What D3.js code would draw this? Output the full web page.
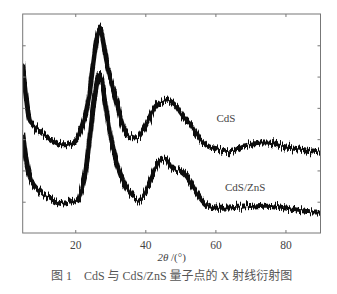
<!DOCTYPE html>
<html>
<head>
<meta charset="utf-8">
<script src="https://cdn.jsdelivr.net/npm/d3@7"></script>
<style>
  body { margin: 0; background: #fff; }
  svg text { font-family: "Liberation Serif", "DejaVu Serif", serif; fill: #444; }
</style>
</head>
<body>
<div id="wrapper"></div>
<script>
// 2theta in degrees, one reading per degree
const twoTheta = d3.range(5, 91)

// CdS intensity (arb. units)
const cdsValues = [
  5.35, 4.30, 3.60, 3.45, 3.32, 3.22, 3.13, 3.07, 3.00, 2.93,
  2.87, 2.82, 2.82, 2.84, 2.87, 2.93, 3.10, 3.40, 3.80, 4.40,
  5.30, 6.10, 6.55, 6.10, 5.40, 4.95, 4.55, 4.12, 3.65, 3.32,
  3.15, 3.07, 3.04, 3.05, 3.20, 3.39, 3.62, 3.88, 4.05, 4.15,
  4.20, 4.25, 4.22, 4.13, 4.03, 3.85, 3.70, 3.58, 3.48, 3.30,
  3.10, 2.95, 2.85, 2.77, 2.73, 2.70, 2.67, 2.64, 2.61, 2.60,
  2.62, 2.66, 2.72, 2.78, 2.80, 2.83, 2.85, 2.86, 2.88, 2.88,
  2.88, 2.86, 2.84, 2.81, 2.78, 2.75, 2.74, 2.72, 2.70, 2.68,
  2.67, 2.65, 2.63, 2.62, 2.60, 2.58
]

// CdS/ZnS intensity
const cdsZnsValues = [
  3.20, 2.35, 1.80, 1.55, 1.42, 1.32, 1.22, 1.16, 1.10, 1.05,
  1.00, 0.97, 0.96, 0.98, 1.00, 1.03, 1.10, 1.50, 2.00, 2.90,
  3.90, 4.70, 5.10, 4.60, 3.85, 3.15, 2.60, 2.18, 1.85, 1.58,
  1.38, 1.22, 1.10, 1.05, 1.12, 1.28, 1.55, 1.85, 2.12, 2.32,
  2.40, 2.38, 2.20, 2.08, 2.03, 2.00, 1.92, 1.80, 1.62, 1.42,
  1.25, 1.08, 0.95, 0.86, 0.82, 0.80, 0.79, 0.79, 0.80, 0.80,
  0.81, 0.82, 0.82, 0.83, 0.84, 0.85, 0.86, 0.87, 0.88, 0.89,
  0.89, 0.88, 0.86, 0.84, 0.82, 0.80, 0.78, 0.76, 0.74, 0.72,
  0.71, 0.69, 0.68, 0.67, 0.67, 0.66
]

const xTicks = [20, 40, 60, 80]
const yTicks = [1, 2, 3, 4, 5, 6]
const seriesLabels = [
  { name: "CdS", x: 63, y: 3.55 },
  { name: "CdS/ZnS", x: 68.5, y: 1.35 },
]
const caption = "图 1　CdS 与 CdS/ZnS 量子点的 X 射线衍射图"

function drawChart() {
  const dimensions = {
    width: 337,
    height: 294,
    margin: { top: 14, right: 16.5, bottom: 61, left: 22.7 },
  }
  dimensions.boundedWidth = dimensions.width - dimensions.margin.left - dimensions.margin.right
  dimensions.boundedHeight = dimensions.height - dimensions.margin.top - dimensions.margin.bottom

  const wrapper = d3.select("#wrapper")
    .append("svg")
      .attr("width", dimensions.width)
      .attr("height", dimensions.height)

  wrapper.append("rect")
      .attr("width", dimensions.width)
      .attr("height", dimensions.height)
      .attr("fill", "#fff")

  // detector-noise look: vertical-only jitter of the drawn stroke
  const defs = wrapper.append("defs")
  const noise = defs.append("filter")
      .attr("id", "noisy")
      .attr("filterUnits", "userSpaceOnUse")
      .attr("x", 0).attr("y", 0)
      .attr("width", dimensions.width).attr("height", dimensions.height)
  noise.append("feTurbulence")
      .attr("type", "fractalNoise")
      .attr("baseFrequency", "0.9 0.03")
      .attr("numOctaves", 2)
      .attr("seed", 3)
      .attr("result", "turb")
  noise.append("feColorMatrix")
      .attr("in", "turb")
      .attr("type", "matrix")
      .attr("values", "0 0 0 0 0.5  0 1 0 0 0  0 0 0 0 0  0 0 0 0 1")
      .attr("result", "map")
  noise.append("feDisplacementMap")
      .attr("in", "SourceGraphic")
      .attr("in2", "map")
      .attr("scale", 13)
      .attr("xChannelSelector", "R")
      .attr("yChannelSelector", "G")

  defs.append("clipPath")
      .attr("id", "plot-clip")
    .append("rect")
      .attr("width", dimensions.boundedWidth)
      .attr("height", dimensions.boundedHeight)

  const bounds = wrapper.append("g")
      .attr("transform", `translate(${dimensions.margin.left}, ${dimensions.margin.top})`)

  const xScale = d3.scaleLinear()
    .domain([5, 90])
    .range([0, dimensions.boundedWidth])

  const yScale = d3.scaleLinear()
    .domain([0, 7])
    .range([dimensions.boundedHeight, 0])

  // lines
  const lineGenerator = d3.line()
    .x((d, i) => xScale(twoTheta[i]))
    .y(d => yScale(d))
    .curve(d3.curveMonotoneX)

  const noisy = bounds.append("g")
      .attr("clip-path", "url(#plot-clip)")
    .append("g")
      .attr("filter", "url(#noisy)")

  noisy.selectAll(".series")
      .data([cdsValues, cdsZnsValues])
    .enter().append("path")
      .attr("class", "series")
      .attr("d", lineGenerator)
      .attr("fill", "none")
      .attr("stroke", "#111")
      .attr("stroke-width", 5)
      .attr("stroke-linejoin", "round")

  // frame + inward ticks
  const tickColor = "#777"
  const xBottom = bounds.append("g")
      .attr("transform", `translate(0, ${dimensions.boundedHeight})`)
      .call(d3.axisBottom(xScale).tickValues(xTicks).tickSizeInner(-3).tickSizeOuter(0).tickPadding(8))
  const xTop = bounds.append("g")
      .call(d3.axisTop(xScale).tickValues(xTicks).tickSizeInner(-3).tickSizeOuter(0).tickFormat(""))
  const yLeft = bounds.append("g")
      .call(d3.axisLeft(yScale).tickValues(yTicks).tickSizeInner(-3).tickSizeOuter(0).tickFormat(""))
  const yRight = bounds.append("g")
      .attr("transform", `translate(${dimensions.boundedWidth}, 0)`)
      .call(d3.axisRight(yScale).tickValues(yTicks).tickSizeInner(-3).tickSizeOuter(0).tickFormat(""))

  ;[xBottom, xTop, yLeft, yRight].forEach(g => {
    g.attr("font-family", null)
    g.select(".domain").remove()
    g.selectAll("line").attr("stroke", tickColor)
  })
  xBottom.selectAll("text")
      .style("font-family", "'Liberation Serif', serif")
      .style("font-size", "11.5px")

  bounds.append("rect")
      .attr("width", dimensions.boundedWidth)
      .attr("height", dimensions.boundedHeight)
      .attr("fill", "none")
      .attr("stroke", tickColor)
      .attr("stroke-width", 1)

  // series labels
  bounds.selectAll(".series-label")
      .data(seriesLabels)
    .enter().append("text")
      .attr("class", "series-label")
      .attr("x", d => xScale(d.x))
      .attr("y", d => yScale(d.y))
      .style("font-family", "'Liberation Serif', serif")
      .style("font-size", "11px")
      .style("text-anchor", "middle")
      .text(d => d.name)

  // x label
  const xLab = wrapper.append("text")
      .attr("x", dimensions.margin.left + dimensions.boundedWidth / 2)
      .attr("y", 261)
      .style("font-family", "'Liberation Serif', serif")
      .style("font-size", "11px")
      .style("text-anchor", "middle")
  xLab.append("tspan").style("font-style", "italic").text("2θ")
  xLab.append("tspan").text(" /(°)")

  // caption
  wrapper.append("text")
      .attr("x", dimensions.margin.left + dimensions.boundedWidth / 2)
      .attr("y", 280)
      .style("font-family", "'Liberation Serif', 'Noto Sans CJK SC', serif")
      .style("font-size", "12px")
      .style("fill", "#555")
      .style("text-anchor", "middle")
      .text(caption)
}

drawChart()
</script>
</body>
</html>
